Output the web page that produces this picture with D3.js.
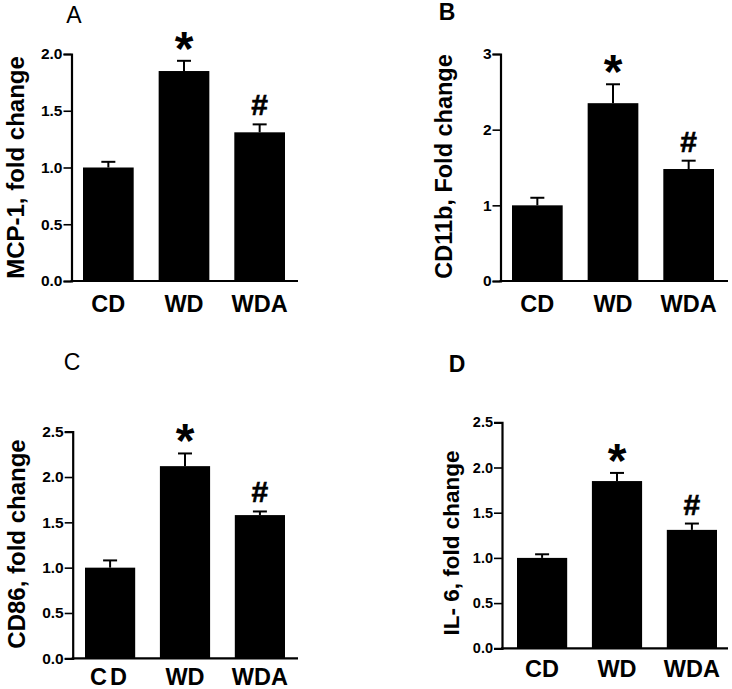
<!DOCTYPE html>
<html>
<head>
<meta charset="utf-8">
<script src="https://cdn.jsdelivr.net/npm/d3@7"></script>
<style>
  html, body { margin: 0; padding: 0; background: #fff; }
  svg { display: block; font-family: "Liberation Sans", Arial, sans-serif; }
</style>
</head>
<body>
<svg id="chart" width="732" height="689"></svg>
<script>
// ---------- data ----------
const categories = ["CD", "WD", "WDA"];
const markers = ["", "*", "#"];

const mcp1Mean = [1.00, 1.85, 1.31];
const mcp1Err  = [0.05, 0.09, 0.07];

const cd11bMean = [1.00, 2.35, 1.48];
const cd11bErr  = [0.10, 0.25, 0.11];

const cd86Mean = [1.00, 2.12, 1.58];
const cd86Err  = [0.08, 0.14, 0.04];

const il6Mean = [1.00, 1.85, 1.31];
const il6Err  = [0.04, 0.09, 0.07];

const ticksA = [0, 0.5, 1.0, 1.5, 2.0];
const ticksB = [0, 1, 2, 3];
const ticksC = [0, 0.5, 1.0, 1.5, 2.0, 2.5];
const ticksD = [0, 0.5, 1.0, 1.5, 2.0, 2.5];

const panelLetters = ["A", "B", "C", "D"];
const yLabels = ["MCP-1, fold change", "CD11b, Fold change", "CD86, fold change", "IL- 6, fold change"];

// ---------- layout ----------
const panels = [
  { letter: panelLetters[0], letterX: 74, letterY: 23, letterW: "normal",
    mean: mcp1Mean, err: mcp1Err, ticks: ticksA, fmt: ".1f", ymax: 2.0,
    x0: 71.5, x1: 298, b0: 83, b1: 285, yTop: 54, yBot: 281,
    ylab: yLabels[0], ylabX: 15, ylabY: 167.5, ylabSize: 24, tickSize: 15.5, catPad: 14, catSpacing: 0 },
  { letter: panelLetters[1], letterX: 447, letterY: 19.5, letterW: "bold",
    mean: cd11bMean, err: cd11bErr, ticks: ticksB, fmt: "d", ymax: 3,
    x0: 500.5, x1: 728, b0: 512, b1: 714, yTop: 54, yBot: 281,
    ylab: yLabels[1], ylabX: 444, ylabY: 166.5, ylabSize: 23.5, tickSize: 15.5, catPad: 14, catSpacing: 0 },
  { letter: panelLetters[2], letterX: 72, letterY: 370, letterW: "normal",
    mean: cd86Mean, err: cd86Err, ticks: ticksC, fmt: ".1f", ymax: 2.5,
    x0: 72.7, x1: 298, b0: 85, b1: 285, yTop: 431.7, yBot: 658.3,
    ylab: yLabels[2], ylabX: 16.5, ylabY: 544, ylabSize: 24, tickSize: 15.5, catPad: 9.5, catSpacing: 3 },
  { letter: panelLetters[3], letterX: 457, letterY: 372, letterW: "bold",
    mean: il6Mean, err: il6Err, ticks: ticksD, fmt: ".1f", ymax: 2.5,
    x0: 502, x1: 728, b0: 517, b1: 717, yTop: 422.3, yBot: 648.3,
    ylab: yLabels[3], ylabX: 451, ylabY: 543, ylabSize: 22.5, tickSize: 14.5, catPad: 12, catSpacing: 0 }
];

const svg = d3.select("#chart");

panels.forEach(p => {
  const g = svg.append("g");

  const x = d3.scaleBand().domain(categories).range([p.b0, p.b1])
    .paddingInner(0.33).paddingOuter(0);
  const y = d3.scaleLinear().domain([0, p.ymax]).range([p.yBot, p.yTop]);

  // bars
  g.selectAll("rect.bar").data(categories).enter().append("rect")
    .attr("class", "bar")
    .attr("x", d => x(d))
    .attr("width", x.bandwidth())
    .attr("y", (d, i) => y(p.mean[i]))
    .attr("height", (d, i) => y(0) - y(p.mean[i]))
    .attr("fill", "#000");

  // error bars (upper)
  const cap = 14;
  categories.forEach((c, i) => {
    const cx = x(c) + x.bandwidth() / 2;
    g.append("line")
      .attr("x1", cx).attr("x2", cx)
      .attr("y1", y(p.mean[i])).attr("y2", y(p.mean[i] + p.err[i]))
      .attr("stroke", "#000").attr("stroke-width", 2);
    g.append("line")
      .attr("x1", cx - cap / 2).attr("x2", cx + cap / 2)
      .attr("y1", y(p.mean[i] + p.err[i])).attr("y2", y(p.mean[i] + p.err[i]))
      .attr("stroke", "#000").attr("stroke-width", 2);
    // significance markers
    if (markers[i] === "*") {
      g.append("text")
        .attr("x", cx).attr("y", y(p.mean[i] + p.err[i]) - 22 + 26)
        .attr("text-anchor", "middle")
        .attr("font-size", 48).attr("font-weight", "bold")
        .text(markers[i]);
    } else if (markers[i] === "#") {
      g.append("text")
        .attr("x", cx).attr("y", y(p.mean[i] + p.err[i]) - 19 + 10)
        .attr("text-anchor", "middle")
        .attr("font-size", 30).attr("font-weight", "bold")
        .attr("stroke", "#000").attr("stroke-width", 0.6)
        .text(markers[i]);
    }
  });

  // y axis
  const yAxis = d3.axisLeft(y).tickValues(p.ticks).tickSize(8).tickPadding(1)
    .tickFormat(d3.format(p.fmt));
  const ya = g.append("g").attr("transform", `translate(${p.x0},0)`).call(yAxis);
  ya.select(".domain").attr("stroke", "#000").attr("stroke-width", 2.2);
  ya.selectAll(".tick line").attr("stroke", "#000").attr("stroke-width", 1.6);
  ya.selectAll(".tick text")
    .attr("font-family", "'Liberation Sans', Arial, sans-serif")
    .attr("font-size", p.tickSize).attr("font-weight", "bold").attr("fill", "#000");

  // x axis baseline
  g.append("line")
    .attr("x1", p.x0 - 1).attr("x2", p.x1)
    .attr("y1", y(0)).attr("y2", y(0))
    .attr("stroke", "#000").attr("stroke-width", 2.2);

  // category labels
  g.selectAll("text.cat").data(categories).enter().append("text")
    .attr("class", "cat")
    .attr("x", d => x(d) + x.bandwidth() / 2)
    .attr("y", y(0) + p.catPad + 17)
    .attr("text-anchor", "middle")
    .attr("font-size", 23.5).attr("font-weight", "bold")
    .attr("letter-spacing", (d, i) => i === 0 ? p.catSpacing : 0)
    .text(d => d);

  // y label
  g.append("text")
    .attr("transform", `translate(${p.ylabX},${p.ylabY}) rotate(-90)`)
    .attr("text-anchor", "middle")
    .attr("dy", "0.36em")
    .attr("font-size", p.ylabSize).attr("font-weight", "bold")
    .text(p.ylab);

  // panel letter
  g.append("text")
    .attr("x", p.letterX).attr("y", p.letterY)
    .attr("text-anchor", "middle")
    .attr("font-size", 23).attr("font-weight", p.letterW)
    .text(p.letter);
});
</script>
</body>
</html>
